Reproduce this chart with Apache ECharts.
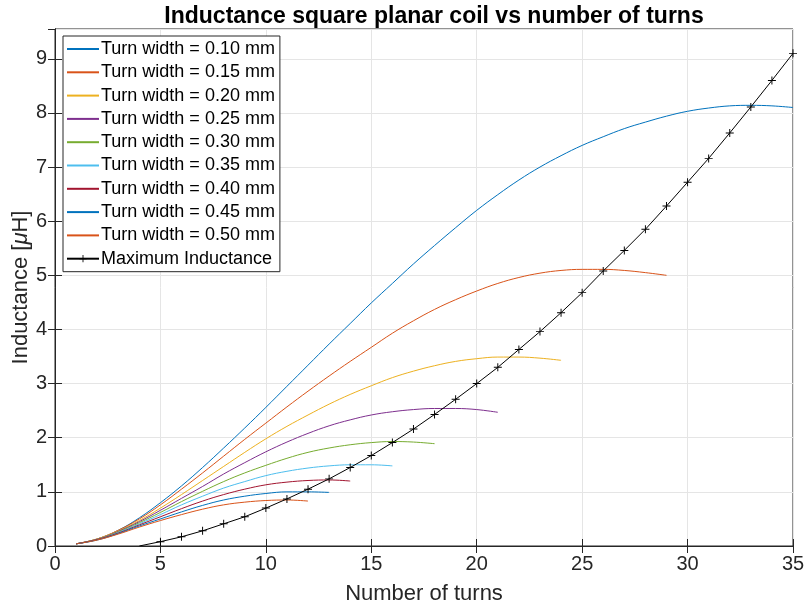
<!DOCTYPE html>
<html>
<head>
<meta charset="utf-8">
<script src="https://cdn.jsdelivr.net/npm/echarts@6/dist/echarts.min.js"></script>
<style>
  html, body { margin: 0; padding: 0; background: #fff; }
  #chart { width: 804px; height: 612px; }
</style>
</head>
<body>
<div id="chart"></div>
<script>
// values, turns start at 1
var w010 = [0.04, 0.13, 0.29, 0.52, 0.80, 1.11, 1.45, 1.81, 2.18, 2.56, 2.95, 3.34, 3.73, 4.11, 4.49, 4.85, 5.21, 5.55, 5.88, 6.20, 6.49, 6.76, 7.00, 7.21, 7.40, 7.56, 7.71, 7.83, 7.94, 8.03, 8.09, 8.13, 8.14, 8.13, 8.10];
var w015 = [0.04, 0.13, 0.29, 0.50, 0.76, 1.05, 1.35, 1.66, 1.97, 2.27, 2.57, 2.86, 3.14, 3.41, 3.67, 3.93, 4.16, 4.37, 4.55, 4.71, 4.85, 4.96, 5.04, 5.09, 5.11, 5.11, 5.09, 5.05, 5.00];
var w020 = [0.04, 0.13, 0.28, 0.47, 0.70, 0.95, 1.21, 1.47, 1.73, 1.98, 2.21, 2.42, 2.62, 2.80, 2.96, 3.11, 3.23, 3.33, 3.41, 3.46, 3.49, 3.49, 3.47, 3.43];
var w025 = [0.04, 0.12, 0.27, 0.45, 0.66, 0.88, 1.10, 1.33, 1.54, 1.74, 1.92, 2.08, 2.22, 2.33, 2.42, 2.48, 2.52, 2.54, 2.54, 2.52, 2.47];
var w030 = [0.04, 0.12, 0.26, 0.43, 0.62, 0.82, 1.01, 1.19, 1.35, 1.49, 1.62, 1.73, 1.81, 1.87, 1.91, 1.93, 1.92, 1.89];
var w035 = [0.04, 0.12, 0.25, 0.41, 0.58, 0.76, 0.92, 1.07, 1.19, 1.30, 1.38, 1.44, 1.48, 1.50, 1.50, 1.48];
var w040 = [0.04, 0.12, 0.24, 0.39, 0.54, 0.69, 0.83, 0.95, 1.05, 1.13, 1.18, 1.21, 1.22, 1.20];
var w045 = [0.04, 0.11, 0.23, 0.37, 0.50, 0.63, 0.75, 0.85, 0.92, 0.97, 1.00, 1.00, 0.99];
var w050 = [0.04, 0.11, 0.22, 0.35, 0.47, 0.58, 0.68, 0.76, 0.81, 0.84, 0.85, 0.83];

// maximum inductance, turns 4..35
var maxStart = 4;
var maxL = [0.00, 0.08, 0.17, 0.28, 0.41, 0.54, 0.70, 0.87, 1.05, 1.24, 1.45, 1.67, 1.91, 2.16, 2.43, 2.71, 3.00, 3.30, 3.63, 3.96, 4.31, 4.68, 5.08, 5.46, 5.85, 6.28, 6.72, 7.16, 7.63, 8.11, 8.60, 9.10];

var names = ['Turn width = 0.10 mm', 'Turn width = 0.15 mm', 'Turn width = 0.20 mm',
  'Turn width = 0.25 mm', 'Turn width = 0.30 mm', 'Turn width = 0.35 mm',
  'Turn width = 0.40 mm', 'Turn width = 0.45 mm', 'Turn width = 0.50 mm'];
var curves = [w010, w015, w020, w025, w030, w035, w040, w045, w050];
var colors = ['#0072BD', '#D95319', '#EDB120', '#7E2F8E', '#77AC30', '#4DBEEE', '#A2142F', '#0072BD', '#D95319'];

var xTicks = [0, 5, 10, 15, 20, 25, 30, 35];
var yTicks = [0, 1, 2, 3, 4, 5, 6, 7, 8, 9];

var font = 'Liberation Sans, Arial, Helvetica, sans-serif';
var axisCol = '#262626';

var series = [];
var legendData = [];
for (var i = 0; i < curves.length; i++) {
  var pts = [];
  for (var k = 0; k < curves[i].length; k++) pts.push([k + 1, curves[i][k]]);
  series.push({
    name: names[i],
    type: 'line',
    data: pts,
    smooth: 0.4,
    symbol: 'none',
    lineStyle: { width: 1, color: colors[i] },
    itemStyle: { color: colors[i] },
    z: 3
  });
  // line only in the legend, no dot
  legendData.push({ name: names[i], itemStyle: { opacity: 0 } });
}
var maxPts = [];
for (var j = 0; j < maxL.length; j++) {
  var p = { value: [maxStart + j, maxL[j]] };
  if (j === 0) p.symbol = 'none';
  maxPts.push(p);
}
series.push({
  name: 'Maximum Inductance',
  type: 'line',
  data: maxPts,
  symbol: 'path://M4.4,0h1.2v10h-1.2zM0,4.4h10v1.2h-10z',
  symbolSize: 8,
  showAllSymbol: true,
  lineStyle: { width: 1, color: '#000' },
  itemStyle: { color: '#000', borderWidth: 0 },
  z: 4
});
legendData.push({ name: 'Maximum Inductance' });

var chart = echarts.init(document.getElementById('chart'), null, { renderer: 'canvas' });
chart.setOption({
  animation: false,
  backgroundColor: '#fff',
  title: {
    text: 'Inductance square planar coil vs number of turns',
    left: 429, top: 0, textAlign: 'center',
    textStyle: { fontFamily: font, fontWeight: 'bold', fontSize: 23, color: '#000' }
  },
  grid: { left: 55, right: 11, top: 29, bottom: 66, containLabel: false, outerBoundsMode: 'none',
    show: true, borderColor: axisCol, borderWidth: 1, backgroundColor: 'transparent' },
  legend: {
    orient: 'vertical', left: 63, top: 36,
    data: legendData,
    backgroundColor: '#fff', borderColor: axisCol, borderWidth: 1, borderRadius: 0,
    padding: [3, 5, 3, 3],
    itemWidth: 32, itemHeight: 9, itemGap: 3.3,
    textStyle: { fontFamily: font, fontSize: 18, color: '#000', padding: [0, 0, 0, -3], lineHeight: 20 }
  },
  xAxis: [{
    type: 'value', min: 0, max: 35, interval: 5,
    name: 'Number of turns', nameLocation: 'middle', nameGap: 37, nameMoveOverlap: false,
    nameTextStyle: { fontFamily: font, fontSize: 22, color: '#262626' },
    axisLine: { show: true, onZero: false, lineStyle: { color: axisCol } },
    axisTick: { show: true, inside: true, length: 7, lineStyle: { color: axisCol } },
    axisLabel: { fontFamily: font, fontSize: 20, color: '#262626', margin: 8,
      formatter: function (v) { return xTicks.indexOf(v) >= 0 ? String(v) : ''; } },
    splitLine: { show: true, lineStyle: { color: '#e5e5e5', width: 1 } }
  }, {
    type: 'value', position: 'top', min: 0, max: 35, interval: 5,
    axisLine: { show: true, lineStyle: { color: axisCol } },
    axisTick: { show: true, inside: true, length: 7, lineStyle: { color: axisCol } },
    axisLabel: { show: false }, splitLine: { show: false }
  }],
  yAxis: [{
    type: 'value', min: 0, max: 9.55, interval: 1,
    name: '{a|Inductance [}{b|μ}{a|H]}', nameLocation: 'middle', nameGap: 23, nameMoveOverlap: false,
    nameTextStyle: { rich: {
      a: { fontFamily: font, fontSize: 22, color: '#262626' },
      b: { fontFamily: font, fontSize: 22, color: '#262626', fontStyle: 'italic' } } },
    axisLine: { show: true, onZero: false, lineStyle: { color: axisCol } },
    axisTick: { show: true, inside: true, length: 7, lineStyle: { color: axisCol } },
    axisLabel: { fontFamily: font, fontSize: 20, color: '#262626', margin: 8, showMaxLabel: false,
      formatter: function (v) { return yTicks.indexOf(v) >= 0 ? String(v) : ''; } },
    splitLine: { show: true, lineStyle: { color: '#e5e5e5', width: 1 } }
  }, {
    type: 'value', position: 'right', min: 0, max: 9.55, interval: 1,
    axisLine: { show: true, lineStyle: { color: axisCol } },
    axisTick: { show: true, inside: true, length: 7, lineStyle: { color: axisCol } },
    axisLabel: { show: false }, splitLine: { show: false }
  }],
  series: series
});
</script>
</body>
</html>
